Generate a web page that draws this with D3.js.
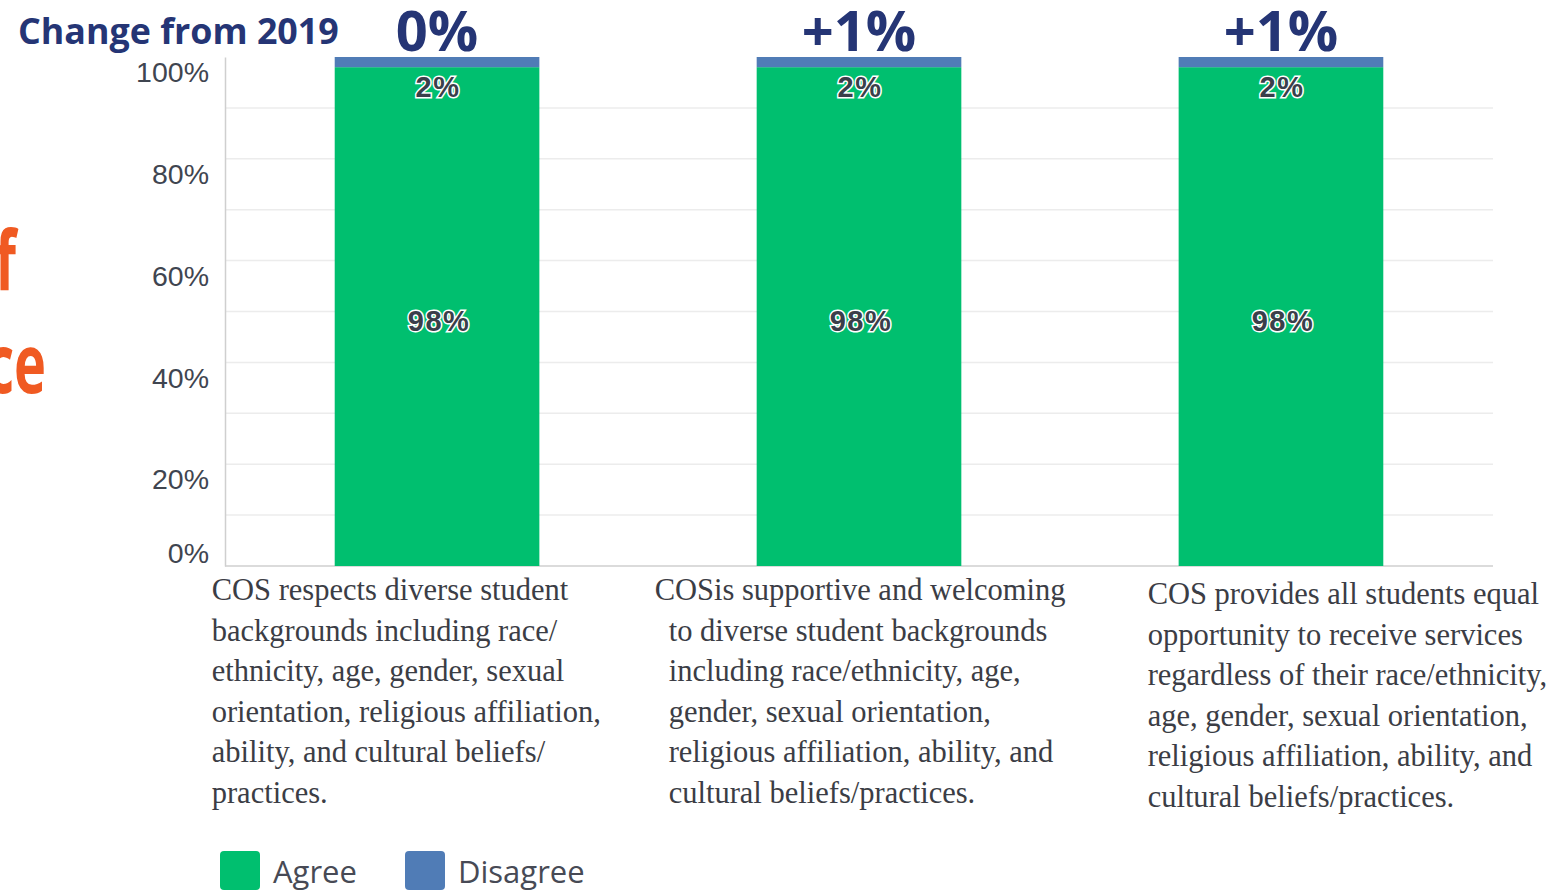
<!DOCTYPE html>
<html>
<head>
<meta charset="utf-8">
<script src="https://cdn.jsdelivr.net/npm/d3@7"></script>
<style>
  html, body { margin: 0; padding: 0; background: #fff; }
  svg { display: block; }
</style>
</head>
<body>
<svg id="chart" width="1555" height="892"></svg>
<script>
// ---- data ----
const categories = [
  "COS respects diverse student backgrounds",
  "COS is supportive and welcoming",
  "COS provides all students equal opportunity"
];
const categoryLines = [
  ["COS respects diverse student", "backgrounds including race/", "ethnicity, age, gender, sexual",
   "orientation, religious affiliation,", "ability, and cultural beliefs/", "practices."],
  ["COSis supportive and welcoming", "to diverse student backgrounds", "including race/ethnicity, age,",
   "gender, sexual orientation,", "religious affiliation, ability, and", "cultural beliefs/practices."],
  ["COS provides all students equal", "opportunity to receive services", "regardless of their race/ethnicity,",
   "age, gender, sexual orientation,", "religious affiliation, ability, and", "cultural beliefs/practices."]
];
const agree = [98, 98, 98];
const disagree = [2, 2, 2];
const changeFrom2019 = ["0%", "+1%", "+1%"];
const yTickValues = [0, 20, 40, 60, 80, 100];
const gridValues = [10, 20, 30, 40, 50, 60, 70, 80, 90];
const seriesNames = ["Agree", "Disagree"];
const seriesColors = ["#00bf6f", "#507cb6"];

// ---- layout ----
const svg = d3.select("#chart");
const plot = { left: 225, right: 1493, top: 57, bottom: 566 };

const x = d3.scaleBand()
  .domain(categories)
  .range([plot.left, plot.right])
  .paddingInner(0.515)
  .paddingOuter(0.26);

const y = d3.scaleLinear()
  .domain([0, 100])
  .range([plot.bottom, plot.top]);

// horizontal gridlines
svg.append("g")
  .selectAll("line")
  .data(gridValues)
  .join("line")
  .attr("x1", plot.left)
  .attr("x2", plot.right)
  .attr("y1", d => y(d))
  .attr("y2", d => y(d))
  .attr("stroke", "#ececec")
  .attr("stroke-width", 1.5);

// y axis
const yAxis = svg.append("g")
  .attr("transform", `translate(${plot.left},0)`)
  .call(d3.axisLeft(y).tickValues(yTickValues).tickFormat(d => d + "%").tickSize(0).tickPadding(16));
yAxis.select(".domain").attr("stroke", "#cfcfcf").attr("stroke-width", 1.5);
yAxis.selectAll("text")
  .attr("font-family", "Liberation Sans, Arial, sans-serif")
  .attr("font-size", 28.5)
  .attr("fill", "#3f4550")
  .attr("dy", d => d === 0 ? "-0.12em" : "0.87em");

// x baseline
svg.append("line")
  .attr("x1", plot.left).attr("x2", plot.right)
  .attr("y1", y(0)).attr("y2", y(0))
  .attr("stroke", "#cfcfcf").attr("stroke-width", 1.5);

// stacked bars
const rows = categories.map((c, i) => ({ cat: c, agree: agree[i], disagree: disagree[i] }));
const stacked = d3.stack().keys(["agree", "disagree"])(rows);

svg.append("g")
  .selectAll("g")
  .data(stacked)
  .join("g")
  .attr("fill", (d, i) => seriesColors[i])
  .selectAll("rect")
  .data(d => d)
  .join("rect")
  .attr("x", d => x(d.data.cat))
  .attr("width", x.bandwidth())
  .attr("y", d => y(d[1]))
  .attr("height", d => y(d[0]) - y(d[1]));

// value labels with white halo
function valueLabel(sel) {
  sel.attr("text-anchor", "middle")
    .attr("font-family", "Liberation Sans, Arial, sans-serif")
    .attr("font-size", 29)
    .attr("font-weight", "bold")
    .attr("letter-spacing", 1.5)
    .attr("fill", "#3a3f4a")
    .attr("stroke", "#ffffff")
    .attr("stroke-width", 3)
    .attr("paint-order", "stroke")
    .attr("dominant-baseline", "central");
}
const labels = svg.append("g");
labels.selectAll("text.agree")
  .data(rows)
  .join("text")
  .attr("class", "agree")
  .attr("x", d => x(d.cat) + x.bandwidth() / 2 + 2)
  .attr("y", d => (y(0) + y(d.agree)) / 2 + 4)
  .text(d => d.agree + "%")
  .call(valueLabel);
labels.selectAll("text.disagree")
  .data(rows)
  .join("text")
  .attr("class", "disagree")
  .attr("x", d => x(d.cat) + x.bandwidth() / 2 + 1)
  .attr("y", d => y(d.agree) + 20)
  .text(d => d.disagree + "%")
  .call(valueLabel);

// change from 2019
svg.append("text")
  .attr("x", 18).attr("y", 44)
  .attr("font-family", "Open Sans, sans-serif")
  .attr("font-weight", "bold")
  .attr("font-size", 35.8)
  .attr("fill", "#253575")
  .text("Change from 2019");
svg.append("g")
  .selectAll("text")
  .data(categories)
  .join("text")
  .attr("x", d => x(d) + x.bandwidth() / 2)
  .attr("y", 51)
  .attr("text-anchor", "middle")
  .attr("font-family", "Open Sans, sans-serif")
  .attr("font-weight", "bold")
  .attr("font-size", 56)
  .attr("fill", "#253575")
  .text((d, i) => changeFrom2019[i]);

// heading fragments at the left edge (narrowed)
const squeeze = 0.66;
const heading = svg.append("g")
  .attr("transform", `scale(${squeeze},1)`)
  .attr("font-family", "Open Sans, sans-serif")
  .attr("font-weight", "bold")
  .attr("font-size", 82)
  .attr("fill", "#f05a22")
  .attr("text-anchor", "end");
heading.append("text")
  .attr("x", 16 / squeeze).attr("y", 290)
  .text("f");
heading.append("text")
  .attr("x", 46 / squeeze).attr("y", 393)
  .text("ce");

// category labels
const labelDx = [-123, -102, -31];
const labelDy = [600, 600, 604];
const catG = svg.append("g")
  .attr("font-family", "Liberation Serif, Times New Roman, serif")
  .attr("font-size", 30.5)
  .attr("fill", "#3b3d45");
categories.forEach((c, i) => {
  const t = catG.append("text")
    .attr("x", x(c) + labelDx[i])
    .attr("y", labelDy[i]);
  categoryLines[i].forEach((line, j) => {
    t.append("tspan")
      .attr("x", x(c) + labelDx[i] + (i === 1 && j > 0 ? 14 : 0))
      .attr("y", labelDy[i] + j * 40.6)
      .text(line);
  });
});

// legend
const legendX = [220, 405];
const legend = svg.append("g");
seriesNames.forEach((name, i) => {
  legend.append("rect")
    .attr("x", legendX[i]).attr("y", 851)
    .attr("width", 40).attr("height", 39)
    .attr("rx", 4)
    .attr("fill", seriesColors[i]);
  legend.append("text")
    .attr("x", legendX[i] + 53).attr("y", 883)
    .attr("font-family", "Open Sans, sans-serif")
    .attr("font-size", 31)
    .attr("fill", "#474a55")
    .text(name);
});
</script>
</body>
</html>
